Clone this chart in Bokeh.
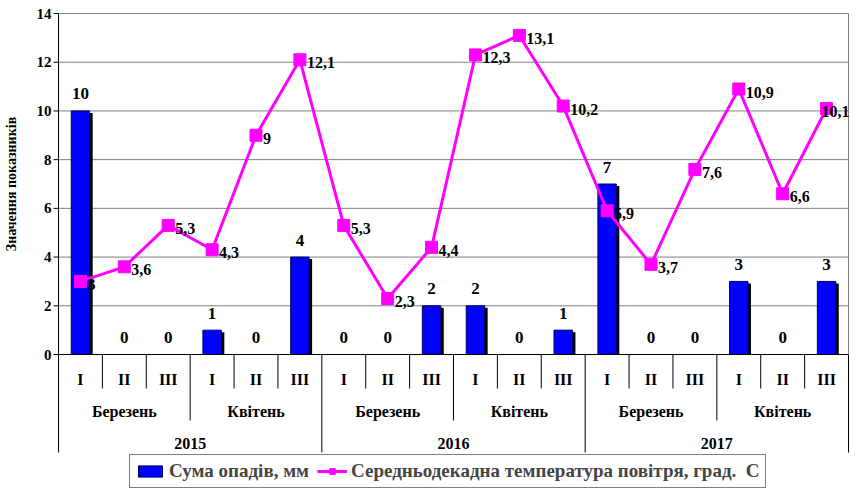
import numpy as np
from bokeh.plotting import figure
from bokeh.models import Range1d, Legend, LegendItem
from bokeh.core.properties import value
from bokeh.embed import file_html
from bokeh.resources import INLINE

# ---------------- data ----------------
years = ["2015", "2016", "2017"]
months = ["Березень", "Квітень"]
decades = ["I", "II", "III"]
precip = [10, 0, 0, 1, 0, 4,
          0, 0, 2, 2, 0, 1,
          7, 0, 0, 3, 0, 3]
temp = [3, 3.6, 5.3, 4.3, 9, 12.1,
        5.3, 2.3, 4.4, 12.3, 13.1, 10.2,
        5.9, 3.7, 7.6, 10.9, 6.6, 10.1]
y_ticks = [0, 2, 4, 6, 8, 10, 12, 14]
precip_name = "Сума опадів, мм"
temp_name = "Середньодекадна температура повітря, град.  С"
y_title = "Значення показників"

# ---------------- layout (canvas pixels) ----------------
W, H = 856, 489
PLOT_L, PLOT_R = 58, 848          # canvas columns of the value area
PLOT_T, PLOT_B = 13, 354          # canvas rows of 14 and 0
YMAX = 14
n = len(precip)
XS = (PLOT_R - PLOT_L) / n        # px per category
YS = (PLOT_B - PLOT_T) / YMAX     # px per unit


def xd(px):
    return -0.5 + (px - PLOT_L) / XS


def yd(px):
    return (PLOT_B - px) / YS


FONT = "'Liberation Serif'"
x = np.arange(n)

p = figure(width=W, height=H,
           x_range=Range1d(xd(0), xd(W)),
           y_range=Range1d(yd(H), yd(0)),
           x_axis_location=None, y_axis_location=None,
           toolbar_location=None, output_backend="svg",
           min_border=0)
p.outline_line_color = None
p.background_fill_color = "white"
p.grid.visible = False

TXT = dict(text_font=value(FONT), text_font_style="bold", text_color="black")

# grid lines and plot-area border
gy = [t for t in y_ticks if t > 0]
p.segment(x0=[-0.5] * len(gy), y0=gy, x1=[n - 0.5] * len(gy), y1=gy,
          line_color="#808080", line_width=1)
p.segment(x0=[n - 0.5], y0=[0], x1=[n - 0.5], y1=[YMAX], line_color="#808080", line_width=1)

# value axis: ticks, labels, title
p.segment(x0=[-0.5] * len(y_ticks), y0=y_ticks, x1=[xd(PLOT_L - 5)] * len(y_ticks), y1=y_ticks,
          line_color="black", line_width=1)
p.text(x=[-0.5] * len(y_ticks), y=y_ticks, text=[str(t) for t in y_ticks],
       text_font_size="15px", text_align="right", text_baseline="middle",
       x_offset=-7, **TXT)
p.text(x=[xd(11)], y=[YMAX / 2], text=[y_title], angle=np.pi / 2,
       text_font_size="14px", text_align="center", text_baseline="middle", **TXT)

# bars with shadow
vals = np.array(precip, dtype=float)
shadow_dx = 3 / XS
shadow_dy = 2 / YS
shadow_top = np.maximum(vals - shadow_dy, 0)
p.vbar(x=x + shadow_dx, top=shadow_top, bottom=0, width=0.42,
       fill_color="black", line_color=None)
bars = p.vbar(x=x, top=vals, bottom=0, width=0.42,
              fill_color="#0000FF", line_color="#000060", line_width=1)

# axis lines & category separators
p.segment(x0=[-0.5], y0=[0], x1=[n - 0.5], y1=[0], line_color="black", line_width=1)
p.segment(x0=[-0.5], y0=[0], x1=[-0.5], y1=[YMAX], line_color="black", line_width=1)
b = np.arange(n + 1) - 0.5
depth = []
for i in range(n + 1):
    if i % 6 == 0:
        depth.append(yd(452))
    elif i % 3 == 0:
        depth.append(yd(420))
    else:
        depth.append(yd(388))
p.segment(x0=b, y0=np.zeros(n + 1), x1=b, y1=depth, line_color="black", line_width=1)

# category labels
dec_lbl = [decades[i % 3] for i in range(n)]
p.text(x=x, y=[yd(379)] * n, text=dec_lbl, text_font_size="16px",
       text_align="center", text_baseline="middle", **TXT)
mon_x = [3 * k + 1 for k in range(n // 3)]
mon_lbl = [months[k % 2] for k in range(n // 3)]
p.text(x=mon_x, y=[yd(411)] * len(mon_x), text=mon_lbl, text_font_size="16px",
       text_align="center", text_baseline="middle", **TXT)
yr_x = [6 * k + 2.5 for k in range(len(years))]
p.text(x=yr_x, y=[yd(443)] * len(years), text=years, text_font_size="16px",
       text_align="center", text_baseline="middle", **TXT)

# line
line = p.line(x=x, y=temp, line_color="#FF00FF", line_width=3)
pts = p.scatter(x=x, y=temp, marker="square", size=12,
                fill_color="#FF00FF", line_color="#FF00FF")

# value labels
p.text(x=x, y=vals, text=[f"{v:g}" for v in precip], text_font_size="17px",
       text_align="center", text_baseline="middle", y_offset=-17, **TXT)
t_off = [7] * (n - 1) + [-5]
p.text(x=x, y=temp, text=[f"{v:g}".replace(".", ",") for v in temp], text_font_size="16px",
       text_align="left", text_baseline="middle", x_offset=t_off, y_offset=3, **TXT)

legend = Legend(items=[LegendItem(label=precip_name, renderers=[bars]),
                       LegendItem(label=temp_name, renderers=[line, pts])],
                location=(129, 1), orientation="horizontal")
legend.border_line_color = "black"
legend.border_line_width = 1
legend.background_fill_color = "white"
legend.background_fill_alpha = 1
legend.label_text_font = FONT
legend.label_text_font_style = "bold"
legend.label_text_font_size = "19px"
legend.glyph_width = 30
legend.glyph_height = 14
legend.padding = 5
legend.spacing = 8
legend.margin = 0
legend.label_standoff = 4
p.add_layout(legend)

open("out.html", "w").write(file_html(p, INLINE))
